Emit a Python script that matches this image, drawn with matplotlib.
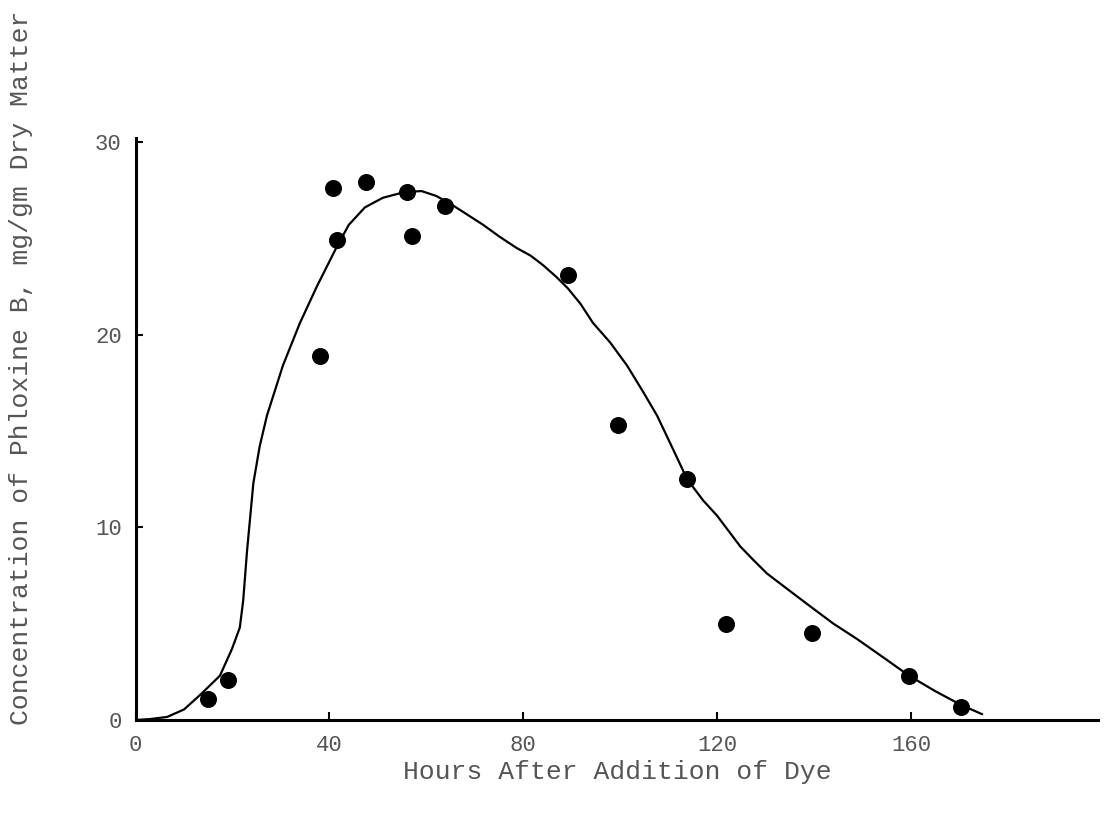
import numpy as np
import matplotlib.pyplot as plt

# measured points (hours, mg/gm)
hours = [15.0, 19.1, 38.1, 40.7, 41.6, 47.5, 56.0, 57.0, 63.9, 89.3, 99.6, 113.8, 121.9, 139.6, 159.6, 170.4]
conc = [1.1, 2.1, 18.9, 27.6, 24.9, 27.9, 27.4, 25.1, 26.7, 23.1, 15.3, 12.5, 5.0, 4.5, 2.3, 0.7]

# hand-drawn fitted curve
curve_x = [0, 3, 6.5, 10, 13.3, 17.4, 19.9, 21.5, 22.2, 23.0, 24.3, 25.6, 27.1, 30.4, 33.9, 37.4,
           41.6, 44, 47.3, 51, 55.5, 59, 62, 64.9, 68, 71.7, 75, 78.6, 81.5, 84.1, 86.8, 89.2,
           91.8, 94.4, 97.9, 101.4, 104.8, 107.6, 111.0, 113.8, 117.1, 120, 122.4, 124.8, 127.5,
           130.3, 135, 139.2, 144, 148.9, 154, 159.6, 165, 170.2, 174.7]
curve_y = [0, 0.05, 0.16, 0.55, 1.3, 2.3, 3.7, 4.8, 6.2, 8.8, 12.3, 14.2, 15.8, 18.4, 20.6, 22.5,
           24.6, 25.7, 26.6, 27.1, 27.4, 27.45, 27.2, 26.8, 26.3, 25.7, 25.1, 24.5, 24.1, 23.6, 23.0,
           22.4, 21.6, 20.6, 19.6, 18.4, 17.0, 15.8, 14.0, 12.5, 11.4, 10.6, 9.8, 9.0, 8.3,
           7.6, 6.7, 5.9, 5.0, 4.2, 3.3, 2.3, 1.5, 0.8, 0.3]

xticks = [0, 40, 80, 120, 160]
yticks = [0, 10, 20, 30]

font = 'Liberation Mono'
txt = '#555555'

fig = plt.figure(figsize=(11.08, 8.17), dpi=100)
ax = fig.add_axes([0.1224, 0.1187, 0.8686, 0.7123])

ax.plot(curve_x, curve_y, color='black', lw=1.6, solid_capstyle='round', solid_joinstyle='round')
ax.scatter(hours, conc, s=150, color='black', zorder=3, linewidths=0)

ax.set_xlim(0, 198.6)
ax.set_ylim(0, 30.2)
ax.set_xticks(xticks)
ax.set_yticks(yticks)
ax.set_xticklabels([str(v) for v in xticks], family=font, fontsize=16, color=txt)
ax.set_yticklabels([str(v) for v in yticks], family=font, fontsize=16, color=txt)
ax.tick_params(axis='x', direction='in', length=6, width=1.5, pad=11)
ax.tick_params(axis='y', direction='in', length=5, width=1.5, pad=10)

for s in ['top', 'right']:
    ax.spines[s].set_visible(False)
for s in ['left', 'bottom']:
    ax.spines[s].set_linewidth(2.2)

fig.text(617 / 1108, 1 - 772 / 817, 'Hours After Addition of Dye', family=font,
         fontsize=19, color=txt, ha='center', va='center')
fig.text(21 / 1108, 1 - 368 / 817, 'Concentration of Phloxine B, mg/gm Dry Matter', family=font,
         fontsize=19, color=txt, ha='center', va='center', rotation=90)

fig.savefig('out.png', dpi=100)
